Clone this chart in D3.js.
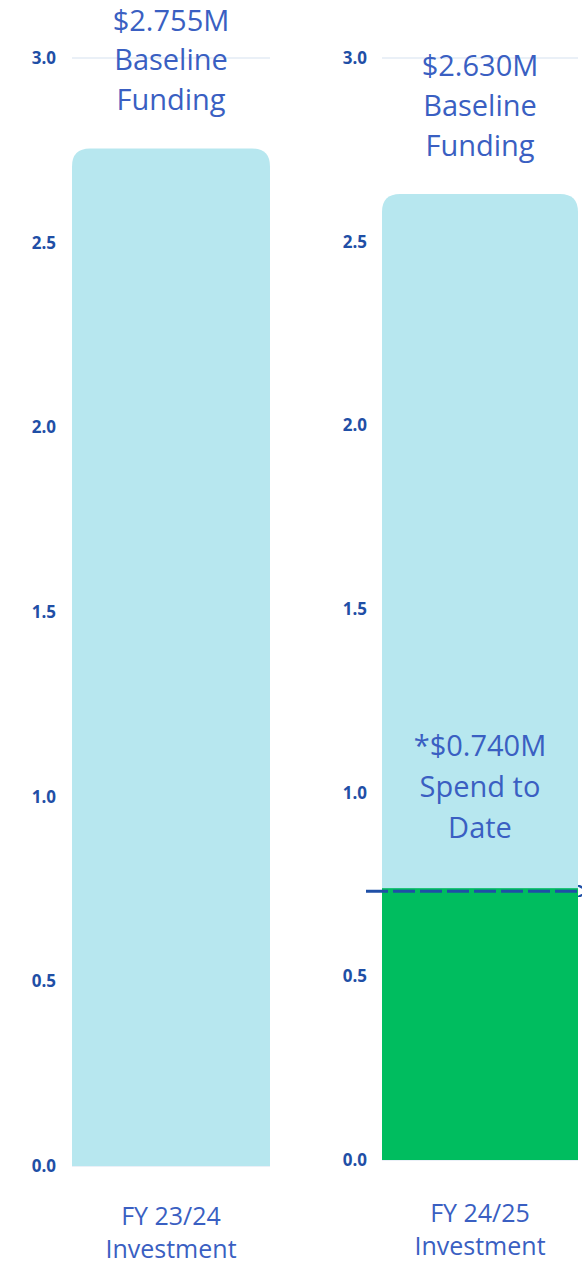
<!DOCTYPE html>
<html>
<head>
<meta charset="utf-8">
<script src="https://cdn.jsdelivr.net/npm/d3@7"></script>
<style>
  body { margin: 0; background: #fff; }
  svg { display: block; }
  .tick text { font-family: "Open Sans", sans-serif; font-weight: 700; }
</style>
</head>
<body>
<div id="chart"></div>
<script>
// values
const years = ["FY 23/24", "FY 24/25"];
const baseline = [2.755, 2.630];
const spendToDate = [null, 0.740];
const yTicks = [0, 0.5, 1.0, 1.5, 2.0, 2.5, 3.0];

const width = 582;
const height = 1264;

const lightBlue = "#b7e7ef";
const green = "#00bd5f";
const axisBlue = "#1f4fa6";
const labelBlue = "#3a5fc2";

// each year has its own little panel with its own axis
const panels = [
    { left: 72, right: 270, top: 58, bottom: 1166, axisX: 56, catBase: 1258 },
    { left: 382, right: 578, top: 58, bottom: 1160, axisX: 367, catBase: 1255 }
];

const svg = d3.select("#chart").append("svg")
    .attr("width", width)
    .attr("height", height);

svg.append("defs").append("marker")
    .attr("id", "arrow")
    .attr("viewBox", "0 0 10 10")
    .attr("refX", 2)
    .attr("refY", 5)
    .attr("markerWidth", 4)
    .attr("markerHeight", 4)
    .attr("orient", "auto")
  .append("path")
    .attr("d", "M0,0 L10,5 L0,10")
    .attr("fill", "none")
    .attr("stroke", axisBlue)
    .attr("stroke-width", 2);

// rounded top, square bottom
function topRounded(x0, x1, yTop, yBot, r) {
    r = Math.min(r, (x1 - x0) / 2, yBot - yTop);
    return `M${x0},${yBot} L${x0},${yTop + r} Q${x0},${yTop} ${x0 + r},${yTop}`
        + ` L${x1 - r},${yTop} Q${x1},${yTop} ${x1},${yTop + r} L${x1},${yBot} Z`;
}

function multiLine(sel, lines, cx, lastBaseline, step, size) {
    const t = sel.append("text")
        .attr("text-anchor", "middle")
        .attr("font-family", "Open Sans, sans-serif")
        .attr("font-size", size)
        .attr("fill", labelBlue);
    lines.forEach((l, i) => {
        t.append("tspan")
            .attr("x", cx)
            .attr("y", lastBaseline - (lines.length - 1 - i) * step)
            .text(l);
    });
}

years.forEach((yr, i) => {
    const p = panels[i];
    const g = svg.append("g");

    const y = d3.scaleLinear()
        .domain([0, 3])
        .range([p.bottom, p.top]);

    const x = d3.scaleBand()
        .domain([yr])
        .range([p.left, p.right])
        .padding(0);

    // gridlines (only the top one shows above the bars)
    g.selectAll(".grid")
        .data(yTicks)
        .enter().append("line")
        .attr("x1", p.left)
        .attr("x2", p.right)
        .attr("y1", d => y(d))
        .attr("y2", d => y(d))
        .attr("stroke", "#e3ebf4")
        .attr("stroke-width", 1.5);

    // axis
    const ax = g.append("g")
        .attr("transform", `translate(${p.axisX},0)`)
        .call(d3.axisLeft(y)
            .tickValues(yTicks)
            .tickSize(0)
            .tickPadding(0)
            .tickFormat(d3.format(".1f")));
    ax.select(".domain").remove();
    ax.selectAll("text")
        .attr("fill", axisBlue)
        .attr("font-size", 17);

    // baseline funding bar
    const bx = x(yr);
    const bw = x.bandwidth();
    g.append("path")
        .attr("d", topRounded(bx, bx + bw, y(baseline[i]), y(0), 18))
        .attr("fill", lightBlue);

    multiLine(g, ["$" + baseline[i].toFixed(3) + "M", "Baseline", "Funding"],
        bx + bw / 2, y(baseline[i]) - 38, 40, 29);

    // spend to date
    if (spendToDate[i] != null) {
        const s = spendToDate[i];
        g.append("rect")
            .attr("x", bx)
            .attr("y", y(s))
            .attr("width", bw)
            .attr("height", y(0) - y(s))
            .attr("fill", green);

        g.append("line")
            .attr("x1", p.axisX - 1)
            .attr("x2", width - 2)
            .attr("y1", y(s) + 3)
            .attr("y2", y(s) + 3)
            .attr("stroke", axisBlue)
            .attr("stroke-width", 3)
            .attr("stroke-dasharray", "22,5")
            .attr("marker-end", "url(#arrow)");

        multiLine(g, ["*$" + s.toFixed(3) + "M", "Spend to", "Date"],
            bx + bw / 2, y(s) - 50, 41, 29);
    }

    // category label
    multiLine(g, [yr, "Investment"], bx + bw / 2, p.catBase, 33, 25);
});
</script>
</body>
</html>
